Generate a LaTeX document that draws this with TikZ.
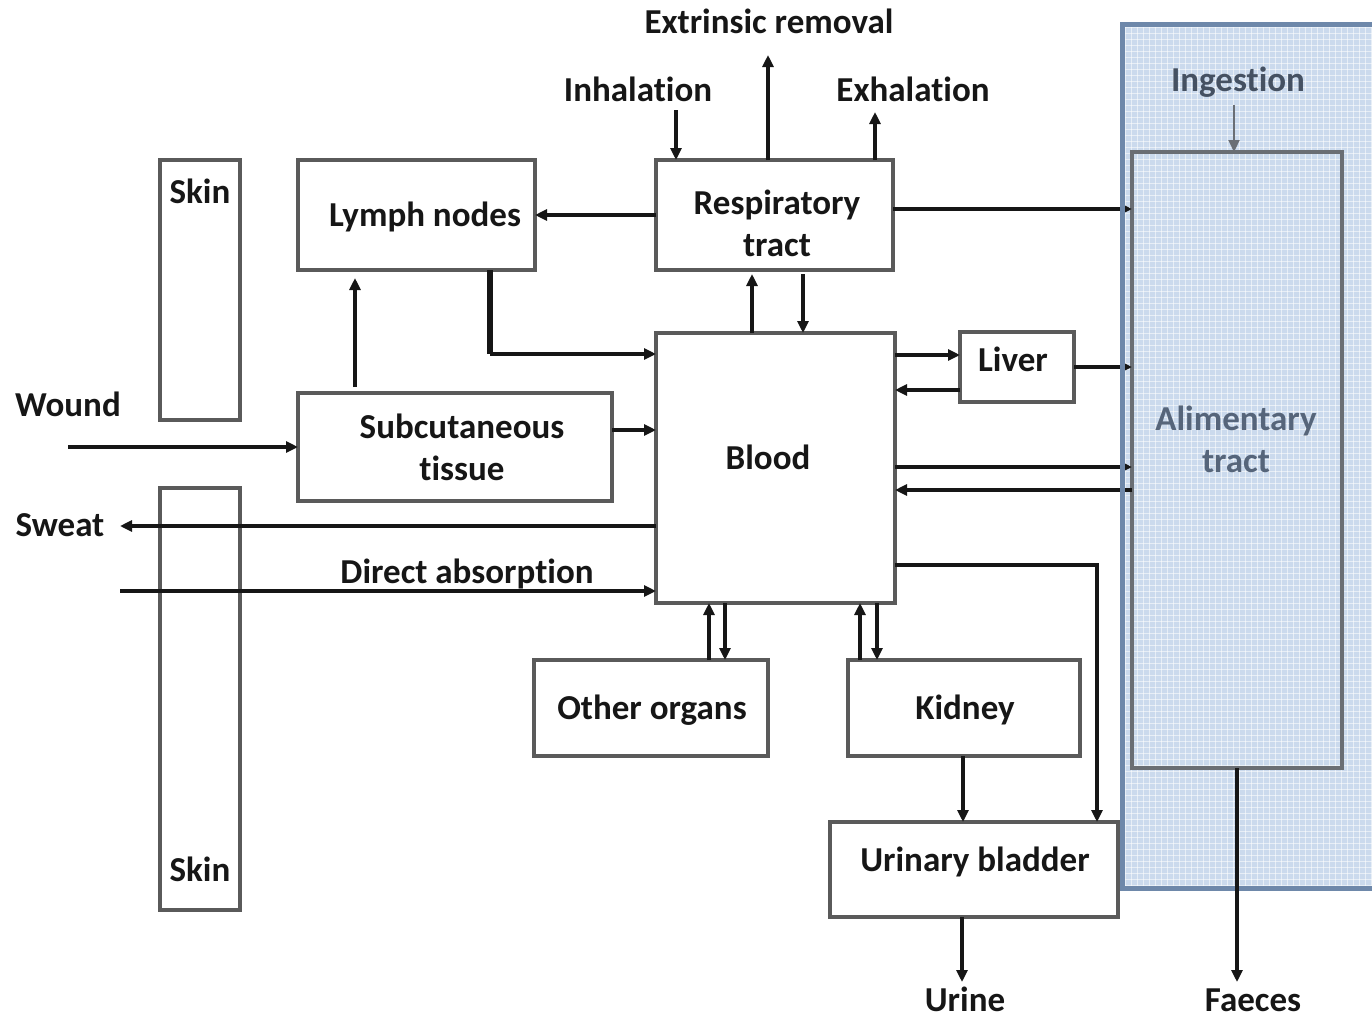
\documentclass[tikz,border=0pt]{standalone}
\usepackage{fontspec}
\setmainfont{Carlito}[Ligatures=NoCommon]
\usetikzlibrary{arrows.meta}
\definecolor{boxgray}{HTML}{5A5A5A}
\definecolor{ink}{HTML}{161616}
\definecolor{panelfill}{HTML}{CBDAED}
\definecolor{panelline}{HTML}{6E88AA}
\definecolor{alimgray}{HTML}{6A6E74}
\definecolor{guttext}{HTML}{56657A}
\newcommand\lblfont{\fontsize{17.5}{21}\selectfont\bfseries}
\begin{document}
\begin{tikzpicture}[x=0.5pt,y=-0.5pt,
  every node/.style={font=\lblfont, text=ink, text height=14pt, text depth=2.5pt},
  twoline/.style={align=center, text height={}, text depth={}},
  box/.style={draw=boxgray, line width=2.3pt, fill=white, inner sep=0pt, outer sep=0pt, align=center},
  arr/.style={-{Triangle[length=6pt,width=5.5pt]}, line width=1.6pt, draw=ink},
  gridline/.style={white, line width=0.5pt, opacity=0.55}]
\useasboundingbox (0,0) rectangle (1372,1018);

% gut panel background with its fine grid texture
\fill[panelfill] (1122,24) rectangle (1372,888);
\begin{scope}
  \clip (1122,24) rectangle (1372,888);
  \foreach \i in {1125,1131,...,1372} \draw[gridline] (\i,24) -- (\i,888);
  \foreach \j in {27,33,...,888} \draw[gridline] (1122,\j) -- (1372,\j);
\end{scope}

% alimentary tract
\node[box, fill=none, draw=alimgray, minimum width=105pt, minimum height=308pt] (alim) at (1237,460) {};
\node[twoline, text=guttext] (alimtxt) at (1236,439) {Alimentary\\tract};
\node[text=guttext!80!black] (ing) at (1238,80) {Ingestion};

% skin layers
\node[box, minimum width=40pt, minimum height=130pt] (skinA) at (200,290) {};
\node (skinAt) at (200,192) {Skin};
\node[box, minimum width=40pt, minimum height=211pt] (skinB) at (200,699) {};
\node (skinBt) at (200,870) {Skin};

% compartments
\node[box, minimum width=118.5pt, minimum height=55pt] (lymph) at (416.5,215) {};
\node (lympht) at (425,215) {Lymph nodes};
\node[box, minimum width=118.5pt, minimum height=55pt] (resp) at (774.5,215) {};
\node[twoline] (respt) at (777,223) {Respiratory\\tract};
\node[box, minimum width=157pt, minimum height=54pt] (subcut) at (455,447) {};
\node[twoline] (subcutt) at (462,447) {Subcutaneous\\tissue};
\node[box, minimum width=119.5pt, minimum height=135pt] (blood) at (775.5,468) {};
\node (bloodt) at (768,458) {Blood};
\node[box, minimum width=57pt, minimum height=35pt] (liver) at (1017,367) {};
\node (livert) at (1013,360) {Liver};
\node[box, minimum width=117pt, minimum height=48pt] (other) at (651,708) {};
\node (othert) at (652,708) {Other organs};
\node[box, minimum width=116pt, minimum height=48pt] (kidney) at (964,708) {};
\node (kidneyt) at (965,708) {Kidney};
\node[box, minimum width=144pt, minimum height=47.5pt] (bladder) at (974,869.5) {};
\node (bladdert) at (975,860) {Urinary bladder};

% free labels
\node (extr) at (769,22) {Extrinsic removal};
\node (inh) at (638,90) {Inhalation};
\node (exh) at (913,90) {Exhalation};
\node (wound) at (68,405) {Wound};
\node (sweat) at (60,525) {Sweat};
\node (direct) at (467,572) {Direct absorption};
\node (urine) at (965,1000) {Urine};
\node (faeces) at (1253,1000) {Faeces};

% free ends of connectors
\coordinate (inhS) at (676,110);
\coordinate (extE) at (768,55);
\coordinate (exhE) at (875,112);
\coordinate (lbk) at (490,354);
\coordinate (wS) at (68,447);
\coordinate (swE) at (120,526);
\coordinate (daS) at (120,591);
\coordinate (bbk) at (1097,565);
\coordinate (urE) at (962,982);
\coordinate (faE) at (1237,982);
\coordinate (ingS) at (1234,105);

% respiratory tract
\draw[arr] (inhS) -- (resp.north -| inhS);
\draw[arr] (resp.north -| extE) -- (extE);
\draw[arr] (resp.north -| exhE) -- (exhE);
\draw[arr] (resp.west) -- (lymph.east);
\draw[arr] (resp.east |- 0,209) -- (alim.west |- 0,209);
\draw[arr, shorten >=2pt] (blood.north -| 752,0) -- (resp.south -| 752,0);
\draw[arr, shorten <=2pt] (resp.south -| 803,0) -- (blood.north -| 803,0);

% lymph and subcutaneous routes
\draw[ink, line width=2.8pt] (lymph.south -| lbk) -- (lbk);
\draw[arr] (lbk) -- (blood.west |- lbk);
\draw[arr, shorten <=3pt, shorten >=4pt] (subcut.north -| 355,0) -- (lymph.south -| 355,0);
\draw[arr] (wS) -- (subcut.west |- wS);
\draw[arr] (subcut.east |- 0,430) -- (blood.west |- 0,430);
\draw[arr] (blood.west |- swE) -- (swE);
\draw[arr] (daS) -- (blood.west |- daS);

% liver and gut exchange
\draw[arr] (blood.east |- 0,355) -- (liver.west |- 0,355);
\draw[arr] (liver.west |- 0,390) -- (blood.east |- 0,390);
\draw[arr] (liver.east) -- (alim.west |- liver.east);
\draw[arr] (blood.east |- 0,467) -- (alim.west |- 0,467);
\draw[arr] (alim.west |- 0,490) -- (blood.east |- 0,490);

% organs, kidney and bladder
\draw[arr] (blood.east |- bbk) -- (bbk) -- (bladder.north -| bbk);
\draw[arr] (other.north -| 709,0) -- (blood.south -| 709,0);
\draw[arr] (blood.south -| 725,0) -- (other.north -| 725,0);
\draw[arr] (kidney.north -| 860,0) -- (blood.south -| 860,0);
\draw[arr] (blood.south -| 877,0) -- (kidney.north -| 877,0);
\draw[arr] (kidney.south -| 963,0) -- (bladder.north -| 963,0);
\draw[arr] (bladder.south -| urE) -- (urE);

% gut panel outline, then ingestion and faeces
\draw[panelline, line width=2.5pt] (1372,24) -- (1122,24) -- (1122,888) -- (1372,888);
\draw[arr, draw=alimgray, line width=1.1pt] (ingS) -- (alim.north -| ingS);
\draw[arr] (alim.south -| faE) -- (faE);
\end{tikzpicture}
\end{document}
